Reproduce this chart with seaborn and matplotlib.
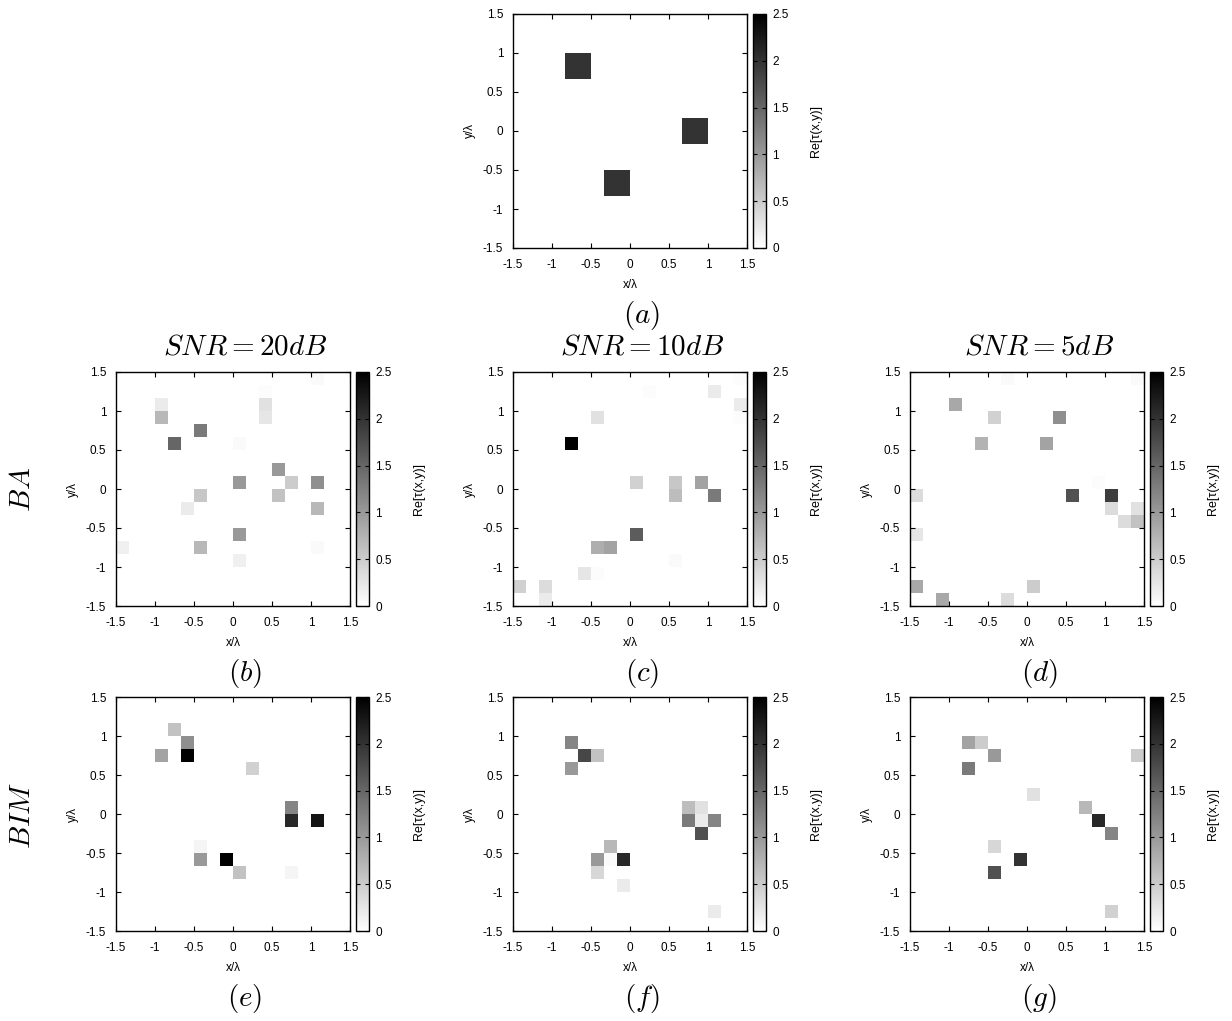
import numpy as np
import pandas as pd
import matplotlib
matplotlib.use('Agg')
import matplotlib.pyplot as plt
import seaborn as sns

sns.set_style('white', rc={'axes.edgecolor': 'black', 'text.color': 'black',
                           'xtick.color': 'black', 'ytick.color': 'black',
                           'axes.labelcolor': 'black'})
plt.rcParams['font.family'] = ['Liberation Sans', 'DejaVu Sans']
plt.rcParams['mathtext.fontset'] = 'cm'

# 18x18 reconstruction grid on [-1.5, 1.5] x [-1.5, 1.5]
n_cells = 18
tick_vals = [-1.5, -1, -0.5, 0, 0.5, 1, 1.5]
tick_labels = ['-1.5', '-1', '-0.5', '0', '0.5', '1', '1.5']
cbar_ticks = [0, 0.5, 1, 1.5, 2, 2.5]
cbar_labels = ['0', '0.5', '1', '1.5', '2', '2.5']

# cells: column index (from x=-1.5), row index (from y=-1.5), Re[tau]
# (a) original profile
a_col = [4, 5, 4, 5, 13, 14, 13, 14, 7, 8, 7, 8]
a_row = [13, 13, 14, 14, 8, 8, 9, 9, 4, 4, 5, 5]
a_val = [2.0, 2.0, 2.0, 2.0, 2.0, 2.0, 2.0, 2.0, 2.0, 2.0, 2.0, 2.0]

# (b) BA, SNR=20dB
b_col = [15, 11, 11, 11, 3, 3, 6, 4, 9, 12, 9, 13, 15, 6, 12, 5, 15, 9, 0, 6, 15, 9]
b_row = [17, 16, 15, 14, 15, 14, 13, 12, 12, 10, 9, 9, 9, 8, 8, 7, 7, 5, 4, 4, 4, 3]
b_val = [0.05, 0.03, 0.3, 0.25, 0.2, 0.7, 1.3, 1.5, 0.05, 1.0, 1.0, 0.5, 1.1, 0.55,
         0.6, 0.2, 0.7, 1.0, 0.15, 0.7, 0.05, 0.15]

# (c) BA, SNR=10dB
c_col = [17, 10, 15, 17, 17, 6, 4, 9, 12, 12, 14, 15, 9, 6, 7, 12, 5, 6, 0, 2, 2]
c_row = [17, 16, 16, 15, 14, 14, 12, 9, 9, 8, 9, 8, 5, 4, 4, 3, 2, 2, 1, 1, 0]
c_val = [0.03, 0.03, 0.2, 0.2, 0.03, 0.3, 2.5, 0.45, 0.55, 0.65, 0.9, 1.3, 1.6,
         0.8, 0.9, 0.05, 0.25, 0.03, 0.45, 0.35, 0.2]

# (d) BA, SNR=5dB
d_col = [7, 17, 3, 6, 11, 5, 10, 14, 12, 15, 0, 15, 17, 16, 17, 0, 0, 9, 2, 7]
d_row = [17, 17, 15, 14, 14, 12, 12, 9, 8, 8, 8, 7, 7, 6, 6, 5, 1, 1, 0, 0]
d_val = [0.05, 0.05, 0.85, 0.45, 1.1, 0.75, 0.9, 0.03, 1.7, 1.9, 0.35, 0.35, 0.3,
         0.35, 0.6, 0.25, 0.85, 0.5, 0.85, 0.35]

# (e) BIM, SNR=20dB
e_col = [4, 5, 3, 5, 10, 13, 13, 15, 6, 6, 8, 9, 13]
e_row = [15, 14, 13, 13, 12, 9, 8, 8, 6, 5, 5, 4, 4]
e_val = [0.6, 1.1, 0.9, 2.5, 0.45, 1.2, 2.1, 2.3, 0.1, 1.0, 2.5, 0.6, 0.1]

# (f) BIM, SNR=10dB
f_col = [4, 5, 6, 4, 13, 14, 13, 14, 15, 14, 7, 6, 7, 8, 6, 8, 15]
f_row = [14, 13, 13, 12, 9, 9, 8, 8, 8, 7, 6, 5, 5, 5, 4, 3, 1]
f_val = [1.2, 1.8, 0.6, 1.0, 0.65, 0.3, 1.3, 0.2, 1.2, 1.7, 0.7, 1.0, 0.05, 2.1,
         0.4, 0.2, 0.2]

# (g) BIM, SNR=5dB
g_col = [4, 5, 6, 17, 4, 9, 13, 14, 15, 6, 8, 6, 15]
g_row = [14, 14, 13, 13, 12, 10, 9, 8, 7, 6, 5, 4, 1]
g_val = [0.9, 0.5, 1.0, 0.5, 1.3, 0.3, 0.7, 2.1, 1.2, 0.4, 2.0, 1.7, 0.45]

W, H = 1232, 1021
fig = plt.figure(figsize=(W / 100, H / 100), dpi=100)

size = 234
col_left = [116, 513, 910]
row_top = [14, 372, 697]
# captions sit a little right of the plot centre (centred on plot + colorbar)
cap_shift = 12


def to_grid(cols, rows, vals):
    grid = np.zeros((n_cells, n_cells))
    for c, r, v in zip(cols, rows, vals):
        grid[n_cells - 1 - r, c] = v
    centers = -1.5 + (np.arange(n_cells) + 0.5) / 6
    return pd.DataFrame(grid, index=centers[::-1].round(3), columns=centers.round(3))


def draw_panel(cols, rows, vals, left, top, tag):
    ax = fig.add_axes([left / W, 1 - (top + size) / H, size / W, size / H])
    cax = fig.add_axes([(left + size + 6) / W, 1 - (top + size) / H, 12.5 / W, size / H])
    sns.heatmap(to_grid(cols, rows, vals), ax=ax, cbar_ax=cax, cmap='gray_r',
                vmin=0, vmax=2.5, xticklabels=False, yticklabels=False)
    ax.set_axisbelow(False)
    ax.set_xticks([(v + 1.5) * 6 for v in tick_vals])
    ax.set_xticklabels(tick_labels, fontsize=8.5, rotation=0)
    ax.set_yticks([(1.5 - v) * 6 for v in tick_vals])
    ax.set_yticklabels(tick_labels, fontsize=8.5, rotation=0)
    ax.tick_params(direction='in', top=True, right=True, bottom=True, left=True,
                   length=3.5, width=0.8)
    ax.tick_params(axis='x', pad=8)
    ax.tick_params(axis='y', pad=7)
    for s in ax.spines.values():
        s.set_visible(True)
        s.set_color('black')
        s.set_linewidth(1)
    ax.set_xlabel('x/λ', fontsize=8.5, labelpad=6)
    ax.set_ylabel('y/λ', fontsize=8.5, labelpad=5)

    cbar = ax.collections[0].colorbar
    cbar.outline.set_linewidth(1)
    cbar.outline.set_edgecolor('black')
    cbar.set_ticks(cbar_ticks)
    cbar.set_ticklabels(cbar_labels, fontsize=8.5)
    cax.set_axisbelow(False)
    cax.tick_params(direction='in', left=True, right=True, length=3, width=0.8, pad=5)
    cbar.set_label('Re[τ(x,y)]', fontsize=9, labelpad=15)

    fig.text((left + size / 2 + cap_shift) / W, 1 - (top + size + 67) / H,
             r'$(%s)$' % tag, ha='center', va='center', fontsize=21)
    return ax


draw_panel(a_col, a_row, a_val, col_left[1], row_top[0], 'a')
draw_panel(b_col, b_row, b_val, col_left[0], row_top[1], 'b')
draw_panel(c_col, c_row, c_val, col_left[1], row_top[1], 'c')
draw_panel(d_col, d_row, d_val, col_left[2], row_top[1], 'd')
draw_panel(e_col, e_row, e_val, col_left[0], row_top[2], 'e')
draw_panel(f_col, f_row, f_val, col_left[1], row_top[2], 'f')
draw_panel(g_col, g_row, g_val, col_left[2], row_top[2], 'g')

snr_titles = [r'$SNR = 20dB$', r'$SNR = 10dB$', r'$SNR = 5dB$']
for left, t in zip(col_left, snr_titles):
    fig.text((left + size / 2 + cap_shift) / W, 1 - 346 / H, t,
             ha='center', va='center', fontsize=21)

fig.text(22 / W, 1 - 489 / H, r'$BA$', ha='center', va='center', fontsize=21, rotation=90)
fig.text(22 / W, 1 - 815 / H, r'$BIM$', ha='center', va='center', fontsize=21, rotation=90)

plt.savefig('out.png', dpi=100, facecolor='white')
